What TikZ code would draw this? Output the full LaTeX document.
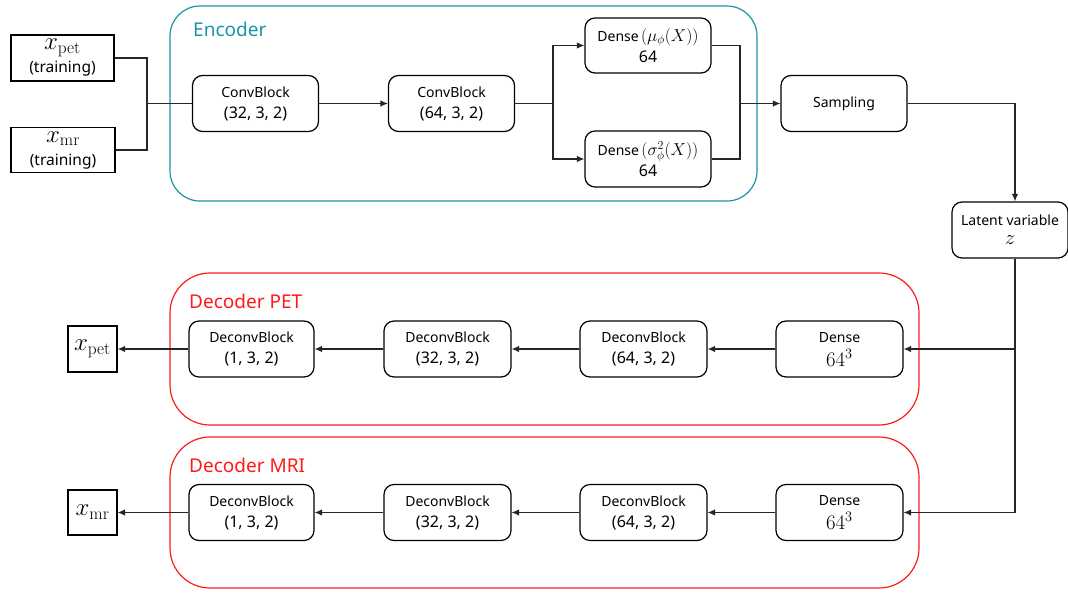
\documentclass[tikz,border=0pt]{standalone}
\usepackage[no-math]{fontspec}
\setmainfont{Noto Sans}
\usetikzlibrary{arrows.meta,calc}
\definecolor{enccol}{HTML}{1A94A8}
\definecolor{deccol}{HTML}{FF1A1A}
\newcommand\fsz[2]{{\fontsize{#1}{#1}\selectfont #2}}
\begin{document}
\begin{tikzpicture}[x=1pt,y=-1pt,
  blk/.style={draw, rounded corners=10pt, line width=1.2pt, minimum width=126pt, minimum height=56pt, align=center, inner sep=0pt, font=\fontsize{14}{21}\selectfont},
  iobox/.style={draw, line width=1.2pt, align=center, inner sep=0pt, font=\fontsize{14}{23}\selectfont},
  cont/.style={line width=1.2pt, rounded corners=#1},
  ttl/.style={anchor=west, inner sep=0pt, font=\fontsize{19}{19}\selectfont},
  conn/.style={line width=1.1pt, draw=black!85},
  arr/.style={conn, -{Latex[length=7.5pt,width=6.5pt]}}
]
\useasboundingbox (0,0) rectangle (1068,592);

% containers
\draw[cont=30pt, enccol] (170,6) rectangle (757,201);
\draw[cont=40pt, deccol] (170,273) rectangle (919,425);
\draw[cont=40pt, deccol] (170,437) rectangle (919,588);
\node[ttl, text=enccol] (tenc) at (193,29) {Encoder};
\node[ttl, text=deccol] (tpet) at (189,301) {Decoder PET};
\node[ttl, text=deccol] (tmri) at (189,465) {Decoder MRI};

% inputs
\node[iobox, minimum width=103pt, minimum height=46pt] (xpet) at (62.5,58) {\fsz{25}{$x_{\mathrm{pet}}$}\\\fsz{15.5}{(training)}};
\node[iobox, minimum width=104pt, minimum height=45pt] (xmr) at (63,150) {\fsz{25}{$x_{\mathrm{mr}}$}\\\fsz{15.5}{(training)}};

% encoder
\node[blk] (cb1) at (255.5,103.5) {ConvBlock\\\fsz{16}{(32, 3, 2)}};
\node[blk] (cb2) at (451.5,103.5) {ConvBlock\\\fsz{16}{(64, 3, 2)}};
\node[blk, minimum height=55pt] (dmu) at (648,45.5) {Dense\,\fsz{17}{$(\mu_\phi(X))$}\\\fsz{16}{64}};
\node[blk] (dsig) at (648,159) {Dense\,\fsz{17}{$(\sigma^2_\phi(X))$}\\\fsz{16}{64}};
\node[blk] (samp) at (844,103.5) {Sampling};
\node[blk, minimum width=116pt] (lat) at (1010,230) {Latent variable\\[-2pt]\fsz{22}{$z$}};

% decoder PET
\node[blk, minimum width=127pt] (dpet) at (839.5,349) {Dense\\[3pt]\fsz{20}{$64^3$}};
\node[blk, minimum width=127pt] (d64p) at (643.5,349) {DeconvBlock\\\fsz{16}{(64, 3, 2)}};
\node[blk, minimum width=127pt] (d32p) at (447.5,349) {DeconvBlock\\\fsz{16}{(32, 3, 2)}};
\node[blk, minimum width=125pt] (d1p) at (251.5,349) {DeconvBlock\\\fsz{16}{(1, 3, 2)}};
\node[iobox, minimum width=49pt, minimum height=46pt] (opet) at (92.5,349) {\fsz{25}{$x_{\mathrm{pet}}$}};

% decoder MRI
\node[blk, minimum width=127pt] (dmri) at (839.5,512.5) {Dense\\[3pt]\fsz{20}{$64^3$}};
\node[blk, minimum width=127pt] (d64m) at (643.5,512.5) {DeconvBlock\\\fsz{16}{(64, 3, 2)}};
\node[blk, minimum width=127pt] (d32m) at (447.5,512.5) {DeconvBlock\\\fsz{16}{(32, 3, 2)}};
\node[blk, minimum width=125pt] (d1m) at (251.5,512.5) {DeconvBlock\\\fsz{16}{(1, 3, 2)}};
\node[iobox, minimum width=49pt, minimum height=45pt] (omr) at (92.5,512.5) {\fsz{25}{$x_{\mathrm{mr}}$}};

% junction coordinates
\coordinate (jin) at (147,103.5);
\coordinate (jsplit) at (553,103.5);
\coordinate (jmerge) at (740,103.5);

% encoder connectors
\draw[conn] (xpet.east) -| (jin);
\draw[conn] (xmr.east) -| (jin);
\draw[conn] (jin) -- (cb1.west);
\draw[arr] (cb1) -- (cb2);
\draw[conn] (cb2.east) -- (jsplit);
\draw[arr] (jsplit) |- (dmu.west);
\draw[arr] (jsplit) |- (dsig.west);
\draw[conn] (dmu.east) -| (jmerge);
\draw[conn] (dsig.east) -| (jmerge);
\draw[arr] (jmerge) -- (samp.west);
\draw[arr] (samp.east) -| ([xshift=5pt]lat.north);

% latent to decoders
\draw[arr] ([xshift=5pt]lat.south) |- (dpet.east);
\draw[arr] ([xshift=5pt]lat.south) |- (dmri.east);

% decoder connectors
\draw[arr] (dpet) -- (d64p);
\draw[arr] (d64p) -- (d32p);
\draw[arr] (d32p) -- (d1p);
\draw[arr] (d1p) -- (opet);
\draw[arr] (dmri) -- (d64m);
\draw[arr] (d64m) -- (d32m);
\draw[arr] (d32m) -- (d1m);
\draw[arr] (d1m) -- (omr);
\end{tikzpicture}
\end{document}
